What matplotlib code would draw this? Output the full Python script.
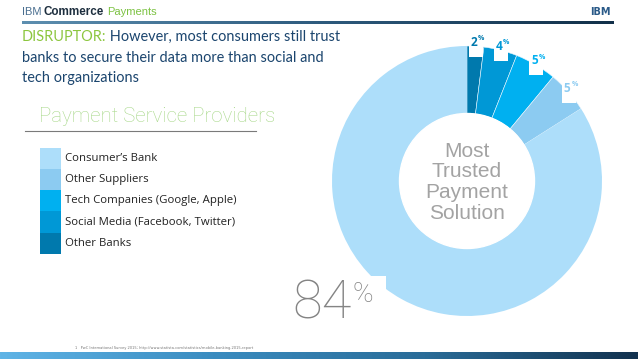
import matplotlib
matplotlib.use("Agg")
import matplotlib.pyplot as plt
import numpy as np
from matplotlib.patches import Rectangle, Circle
from matplotlib.colors import LinearSegmentedColormap

# ---------------- data ----------------
categories = ["Consumer\u2019s Bank", "Other Suppliers", "Tech Companies (Google, Apple)",
              "Social Media (Facebook, Twitter)", "Other Banks"]
values = [84, 5, 5, 4, 2]
colors = ["#addefa", "#8ccbf1", "#00b0f0", "#0098d6", "#0079ad"]
header_parts = ["IBM", "Commerce", "Payments"]
title_key = "DISRUPTOR:"
title_rest = " However, most consumers still trust"
title_lines = ["banks to secure their data more than social and", "tech organizations"]
legend_title = "Payment Service Providers"
center_text = "Most\nTrusted\nPayment\nSolution"
big_number = "84"
footnote = "1   PwC International Survey 2015; http://www.statista.com/statistics/mobile-banking-2015-report"

W, H = 638, 359
fig = plt.figure(figsize=(W / 100, H / 100), dpi=100)
fig.patch.set_facecolor("white")

# pie axes
cx, cy, R = 467, 181, 135
ax_pie = fig.add_axes([(cx - R) / W, (H - cy - R) / H, 2 * R / W, 2 * R / H], zorder=1)
pie_vals = values[::-1]
pie_cols = colors[::-1]
wedges, _ = ax_pie.pie(pie_vals, colors=pie_cols, startangle=90, counterclock=False,
                       radius=1.0, wedgeprops=dict(width=0.5, edgecolor="none"))
for w in wedges[:-1]:
    w.set_edgecolor("#e8f6fe")
    w.set_linewidth(0.4)
ax_pie.set_xlim(-1, 1)
ax_pie.set_ylim(-1, 1)
ax_pie.set_aspect("equal")
ax_pie.axis("off")
ax_pie.add_patch(Circle((0, 0), 0.5, color="white", zorder=3))
ax_pie.text(0, -0.01, center_text, ha="center", va="center", fontsize=15,
            color="#a3a3a3", family="Liberation Sans", linespacing=1.12, zorder=4)

# percentage labels for small slices
total = sum(pie_vals)
cum = 0
for v, c in zip(pie_vals, pie_cols):
    mid = (cum + v / 2) / total * 360
    cum += v
    if v == max(pie_vals):
        continue
    ang = np.deg2rad(90 - mid)
    x, y = 1.01 * np.cos(ang), 1.01 * np.sin(ang)
    ax_pie.annotate(" ", (x, y), xytext=(0, 0), textcoords="offset points",
                    ha="center", va="center", fontsize=10, zorder=5, annotation_clip=False,
                    bbox=dict(boxstyle="square,pad=0.35", fc="white", ec="none"))
    ax_pie.annotate(f"{v}", (x, y), xytext=(1, 2), textcoords="offset points",
                    ha="right", va="center", fontsize=8.5, fontweight="bold",
                    color=c, family="Open Sans", zorder=6, annotation_clip=False)
    ax_pie.annotate("%", (x, y), xytext=(1.5, 4.5), textcoords="offset points",
                    ha="left", va="center", fontsize=5, color=c, family="Open Sans",
                    fontweight="bold", zorder=7, annotation_clip=False)

# overlay axes in pixel coordinates
ax = fig.add_axes([0, 0, 1, 1], zorder=3)
ax.set_xlim(0, W)
ax.set_ylim(H, 0)
ax.axis("off")
ax.patch.set_visible(False)
fig.canvas.draw()
renderer = fig.canvas.get_renderer()

def px_right(t):
    return t.get_window_extent(renderer).x1 * 100 / fig.dpi

# header
hx = 22
specs = [("#4a6f90", "normal", 8.0), ("#1d2e3e", "bold", 8.4), ("#7cc242", "normal", 8.0)]
for part, (col, wt, fs) in zip(header_parts, specs):
    t = ax.text(hx, 12, part, fontsize=fs, color=col, family="Liberation Sans",
                fontweight=wt, va="center")
    hx = px_right(t) + 2.5
grad = np.linspace(0, 1, 256).reshape(1, -1)
cm_head = LinearSegmentedColormap.from_list("h", ["#5d8fb0", "#2e5b7e", "#123049"])
ax.imshow(grad, cmap=cm_head, extent=(22, 614, 24, 21.5), aspect="auto", zorder=1)
ax.text(611, 12, "IBM", fontsize=7, color="#2a5a88", family="DejaVu Sans",
        fontweight="bold", ha="right", va="center")

# title
fs_title = 10.45
tcol = "#1b456e"
tk = ax.text(22, 41, title_key, fontsize=fs_title, color="#8cc63e", family="Lato", va="baseline")
ax.text(px_right(tk), 41, title_rest, fontsize=fs_title, color=tcol, family="Lato", va="baseline")
for i, line in enumerate(title_lines):
    ax.text(22, 61.5 + 20.5 * i, line, fontsize=fs_title, color=tcol, family="Lato", va="baseline")

# legend title
ax.text(39, 116, legend_title, fontsize=14.8, color="#a8d88a", family="Roboto",
        fontweight="light", va="center")
ax.plot([25, 256], [131, 131], color="#7a7a7a", lw=0.8)

# legend blocks
y0, hgt = 147.5, 21.3
for i, (cat, col) in enumerate(zip(categories, colors)):
    ax.add_patch(Rectangle((40, y0 + i * hgt), 21, hgt, color=col, lw=0))
    ax.text(65, y0 + i * hgt + hgt / 2, cat, fontsize=8.2, color="#222222",
            family="Open Sans", va="center")

# 84% with white backing over the donut
ax.add_patch(Rectangle((286, 276), 100, 60, color="white", lw=0, zorder=2))
tn = ax.text(292, 304, big_number, fontsize=39, color="#848484", family="Roboto",
             fontweight="light", va="center", ha="left", zorder=3)
ax.text(px_right(tn) + 1, 295, "%", fontsize=20, color="#848484", family="Roboto",
        fontweight="light", va="center", ha="left", zorder=3)

# footnote
ax.text(75, 348, footnote, fontsize=2.6, color="#777777", family="DejaVu Sans", va="center")

# footer gradient
cm_foot = LinearSegmentedColormap.from_list("f", ["#5fb4e6", "#3a8cc0", "#2a6c98", "#12324f"])
ax.imshow(grad, cmap=cm_foot, extent=(0, W, H, 352.5), aspect="auto", zorder=1)

fig.savefig("out.png", dpi=100, facecolor="white")
